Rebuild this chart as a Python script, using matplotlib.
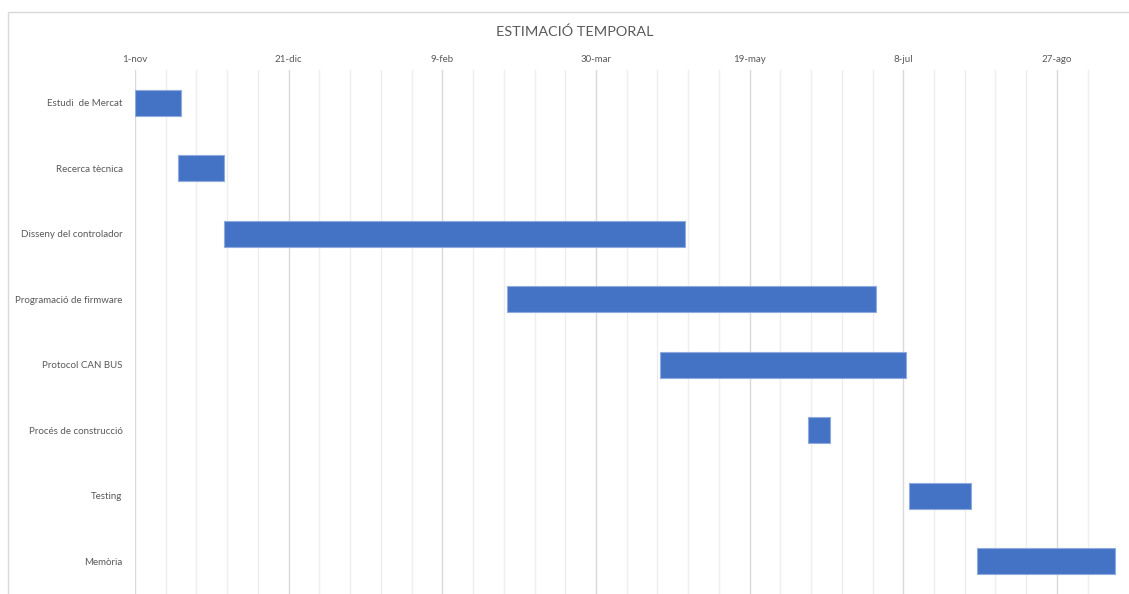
import datetime as dt
import matplotlib
matplotlib.use("Agg")
import matplotlib.pyplot as plt
import matplotlib.dates as mdates
from matplotlib.patches import Rectangle

# Tasks of the project plan
tasks = [
    "Estudi  de Mercat",
    "Recerca tècnica",
    "Disseny del controlador",
    "Programació de firmware",
    "Protocol CAN BUS",
    "Procés de construcció",
    "Testing",
    "Memòria",
]
start_dates = [
    "2019-11-01",
    "2019-11-15",
    "2019-11-30",
    "2020-03-01",
    "2020-04-20",
    "2020-06-07",
    "2020-07-10",
    "2020-08-01",
]
durations_days = [15, 15, 150, 120, 80, 7, 20, 45]

# Top axis labels (every 50 days)
tick_dates = ["2019-11-01", "2019-12-21", "2020-02-09", "2020-03-30",
              "2020-05-19", "2020-07-08", "2020-08-27"]
tick_labels = ["1-nov", "21-dic", "9-feb", "30-mar", "19-may", "8-jul", "27-ago"]

title = "ESTIMACIÓ TEMPORAL"

plt.rcParams["font.family"] = ["Lato", "DejaVu Sans"]
text_color = "#595959"
bar_color = "#4472C4"

W, H = 1129, 594
fig = plt.figure(figsize=(W / 100, H / 100), dpi=100)

# Chart frame
fig.patches.append(Rectangle((8 / W, -0.1), 1.2, 1.1 - 12 / H,
                             transform=fig.transFigure, fill=False,
                             edgecolor="#D9D9D9", linewidth=1.0, zorder=0))

ax_left, ax_right, ax_top = 135 / W, 1119 / W, 1 - 70 / H
ax = fig.add_axes([ax_left, 0.0, ax_right - ax_left, ax_top])

to_num = lambda s: mdates.date2num(dt.datetime.strptime(s, "%Y-%m-%d"))
starts = [to_num(s) for s in start_dates]
y = list(range(len(tasks)))

ax.barh(y, durations_days, left=starts, height=0.4, color=bar_color,
        edgecolor="#8FAADC", linewidth=0.8, zorder=3)

x0 = to_num(tick_dates[0])
x_max = x0 + 320.2
ax.set_xlim(x0, x_max)
ax.set_ylim(len(tasks) - 0.5, -0.5)

# Gridlines: every 10 days, darker every 50 days
major = [to_num(d) for d in tick_dates]
for k in range(0, 32):
    xv = x0 + 10 * k
    is_major = (k % 5 == 0)
    ax.axvline(xv, color="#D9D9D9" if is_major else "#EEEEEE",
               linewidth=1.0, zorder=1)

ax.xaxis.tick_top()
ax.set_xticks(major)
ax.set_xticklabels(tick_labels)
ax.tick_params(axis="x", length=0, pad=4.5, labelsize=7, colors=text_color)
ax.set_yticks(y)
ax.set_yticklabels(tasks)
ax.tick_params(axis="y", length=0, pad=9, labelsize=7, colors=text_color)

for s in ax.spines.values():
    s.set_visible(False)
ax.set_facecolor("none")

fig.text(575 / W, 1 - 32 / H, title, ha="center", va="center",
         fontsize=10.4, color=text_color)

fig.savefig("out.png", dpi=100, facecolor="white")
